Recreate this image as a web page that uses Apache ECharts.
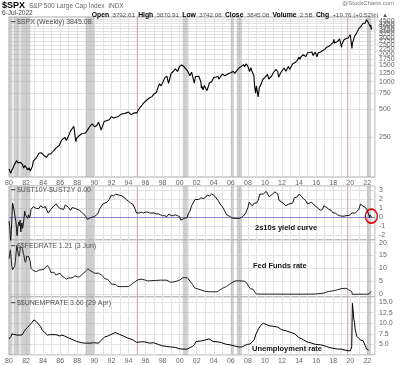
<!DOCTYPE html>
<html><head><meta charset="utf-8">
<script src="https://cdn.jsdelivr.net/npm/echarts@6/dist/echarts.min.js"></script>
<style>html,body{margin:0;padding:0;background:#fff}#c{width:400px;height:365px}</style>
</head><body><div id="c"></div>
<script>
// ---- data (decimal year, value) ----
const spx = [[1980.0,114],[1980.1,116],[1980.2,102],[1980.25,99],[1980.35,111],[1980.5,118],[1980.6,125],[1980.75,127],[1980.9,140],[1981.0,133],
[1981.15,131],[1981.35,134],[1981.5,130],[1981.6,126],[1981.72,116],[1981.85,124],[1982.0,121],[1982.2,111],[1982.35,117],[1982.5,108],[1982.6,104],[1982.75,122],[1982.85,138],[1983.0,141],
[1983.25,152],[1983.5,168],[1983.6,163],[1983.8,170],[1984.0,165],[1984.15,157],[1984.4,152],[1984.55,150],[1984.65,165],[1984.9,165],[1985.0,170],
[1985.25,180],[1985.5,191],[1985.7,182],[1985.9,205],[1986.0,211],[1986.2,235],[1986.4,245],[1986.55,250],[1986.7,232],[1986.9,248],[1987.0,246],
[1987.2,292],[1987.35,285],[1987.6,330],[1987.75,315],[1987.8,236],[1987.83,224],[1987.9,242],[1988.0,250],[1988.25,262],[1988.5,273],[1988.75,275],[1989.0,280],
[1989.25,305],[1989.5,330],[1989.75,350],[1989.95,353],[1990.05,325],[1990.3,335],[1990.5,365],[1990.6,355],[1990.8,300],[1990.9,318],[1991.0,330],
[1991.15,370],[1991.4,378],[1991.5,375],[1991.75,387],[1991.9,381],[1992.0,418],[1992.25,405],[1992.5,412],[1992.75,417],[1993.0,435],
[1993.25,450],[1993.5,450],[1993.75,460],[1994.0,470],[1994.1,481],[1994.3,440],[1994.5,450],[1994.7,462],[1994.9,452],[1995.0,460],
[1995.25,510],[1995.5,545],[1995.75,584],[1996.0,615],[1996.25,645],[1996.5,670],[1996.55,640],[1996.75,690],[1997.0,740],
[1997.25,760],[1997.35,740],[1997.5,885],[1997.65,950],[1997.8,900],[1998.0,970],[1998.25,1100],[1998.5,1150],[1998.6,1186],[1998.7,960],[1998.8,1000],[1999.0,1229],
[1999.25,1290],[1999.5,1380],[1999.75,1290],[2000.0,1469],[2000.2,1400],[2000.25,1520],[2000.5,1460],[2000.7,1520],[2000.9,1320],[2001.0,1330],
[2001.2,1160],[2001.25,1120],[2001.4,1270],[2001.5,1220],[2001.72,965],[2001.85,1140],[2002.0,1148],[2002.25,1147],[2002.5,990],[2002.55,850],[2002.6,900],[2002.75,815],[2002.8,800],[2002.9,910],[2003.0,880],
[2003.2,800],[2003.5,975],[2003.75,1000],[2004.0,1112],[2004.25,1126],[2004.5,1141],[2004.6,1065],[2004.75,1115],[2005.0,1212],
[2005.3,1160],[2005.5,1191],[2005.75,1229],[2006.0,1248],[2006.3,1300],[2006.45,1230],[2006.75,1336],[2007.0,1418],[2007.2,1380],[2007.5,1530],[2007.6,1450],[2007.8,1560],[2008.0,1468],
[2008.2,1290],[2008.35,1420],[2008.5,1280],[2008.7,1165],[2008.8,880],[2008.9,750],[2009.0,900],[2009.15,735],[2009.2,683],[2009.35,870],[2009.5,919],[2009.75,1057],[2010.0,1115],
[2010.3,1200],[2010.45,1070],[2010.55,1030],[2010.75,1141],[2011.0,1258],[2011.3,1360],[2011.5,1290],[2011.6,1120],[2011.75,1100],[2011.85,1250],[2012.0,1258],
[2012.25,1408],[2012.45,1300],[2012.75,1460],[2012.9,1360],[2013.0,1426],[2013.25,1569],[2013.5,1606],[2013.75,1682],[2014.0,1848],[2014.1,1750],
[2014.25,1872],[2014.5,1960],[2014.8,1870],[2015.0,2059],[2015.25,2068],[2015.5,2100],[2015.65,1920],[2015.75,1920],[2015.9,2090],[2016.0,2044],[2016.1,1860],
[2016.25,2060],[2016.5,2099],[2016.75,2168],[2017.0,2239],[2017.25,2363],[2017.5,2423],[2017.75,2519],[2018.0,2674],[2018.08,2870],[2018.15,2620],
[2018.25,2641],[2018.5,2718],[2018.75,2914],[2018.85,2660],[2018.98,2350],[2019.0,2507],[2019.25,2834],[2019.4,2750],[2019.5,2942],[2019.75,2977],[2020.0,3231],
[2020.12,3380],[2020.2,2300],[2020.25,2585],[2020.5,3100],[2020.75,3363],[2021.0,3756],[2021.25,3973],[2021.5,4298],[2021.75,4308],[2021.9,4690],[2022.0,4766],[2022.1,4400],[2022.25,4530],[2022.38,3900],[2022.42,4130],[2022.46,3670],[2022.51,3845]];

const yieldCurve = [[1980.0,-0.4],[1980.08,-1.0],[1980.15,-2.0],[1980.2,-2.6],[1980.28,-1.4],[1980.35,0.2],[1980.42,1.6],[1980.5,1.3],[1980.58,1.2],[1980.65,0.5],[1980.72,0.0],[1980.8,-0.4],[1980.88,-1.2],[1980.95,-2.0],[1981.0,-1.3],
[1981.08,-0.8],[1981.15,-0.5],[1981.22,-0.9],[1981.3,-0.3],[1981.38,-1.6],[1981.45,-1.0],[1981.52,-0.6],[1981.6,-1.2],[1981.68,-0.7],[1981.76,-0.1],[1981.84,0.7],[1981.92,0.3],[1982.0,0.1],
[1982.1,0.2],[1982.2,-0.1],[1982.3,0.3],[1982.4,0.0],[1982.5,0.3],[1982.58,0.9],[1982.66,0.7],[1982.75,1.1],[1982.85,1.2],[1983.0,1.1],
[1983.2,1.0],[1983.35,1.2],[1983.5,1.0],[1983.7,1.3],[1983.85,1.2],[1984.0,1.1],[1984.25,1.2],[1984.45,0.8],[1984.6,0.5],[1984.75,0.6],[1984.9,0.9],[1985.0,1.0],
[1985.25,1.3],[1985.4,1.1],[1985.55,1.5],[1985.75,1.2],[1986.0,1.0],[1986.2,0.8],[1986.4,0.9],[1986.6,1.4],[1986.8,1.2],[1987.0,1.1],
[1987.2,0.8],[1987.4,1.1],[1987.6,0.9],[1987.8,1.0],[1988.0,0.9],[1988.25,0.8],[1988.5,0.6],[1988.75,0.4],[1989.0,0.1],[1989.2,-0.2],[1989.4,-0.1],[1989.6,0.0],[1989.8,0.1],[1990.0,0.1],
[1990.2,0.3],[1990.4,0.4],[1990.6,0.9],[1990.8,1.0],[1991.0,1.5],[1991.25,1.6],[1991.5,1.7],[1991.75,2.0],[1992.0,2.5],[1992.25,2.4],[1992.5,2.6],[1992.7,2.75],[1992.85,2.5],[1993.0,2.6],
[1993.25,2.4],[1993.5,2.2],[1993.75,2.0],[1994.0,1.8],[1994.25,1.6],[1994.5,1.5],[1994.75,1.0],[1994.95,0.5],[1995.0,0.6],
[1995.25,0.5],[1995.5,0.6],[1995.75,0.5],[1996.0,0.6],[1996.25,0.6],[1996.5,0.5],[1996.75,0.5],[1997.0,0.5],[1997.25,0.4],[1997.5,0.4],[1997.75,0.3],[1998.0,0.2],
[1998.25,0.2],[1998.5,0.1],[1998.75,0.4],[1999.0,0.2],[1999.25,0.2],[1999.5,0.3],[1999.75,0.2],[2000.0,0.1],[2000.15,-0.3],[2000.3,-0.4],[2000.5,-0.1],[2000.7,-0.3],[2000.9,0.0],[2001.0,0.4],
[2001.2,0.7],[2001.4,1.3],[2001.6,1.5],[2001.8,2.0],[2002.0,2.2],[2002.25,2.0],[2002.5,2.2],[2002.75,2.1],[2003.0,2.2],[2003.25,2.5],[2003.5,2.4],[2003.75,2.6],[2003.9,2.7],[2004.0,2.5],
[2004.25,2.2],[2004.5,1.9],[2004.75,1.5],[2005.0,1.2],[2005.25,0.8],[2005.5,0.3],[2005.75,0.2],[2005.95,0.0],[2006.1,-0.05],[2006.3,0.1],[2006.5,-0.1],[2006.75,-0.1],[2007.0,-0.1],
[2007.25,0.0],[2007.5,0.2],[2007.75,0.5],[2008.0,1.1],[2008.15,1.7],[2008.3,1.5],[2008.5,1.3],[2008.75,1.6],[2008.9,1.5],[2009.0,1.6],[2009.2,1.9],[2009.4,2.6],[2009.6,2.5],[2009.8,2.6],[2010.0,2.7],
[2010.15,2.9],[2010.35,2.7],[2010.5,2.3],[2010.7,2.1],[2010.9,2.6],[2011.0,2.7],[2011.15,2.85],[2011.3,2.7],[2011.5,2.6],[2011.65,1.9],[2011.8,1.8],[2012.0,1.7],[2012.2,1.9],[2012.45,1.3],[2012.6,1.4],[2012.8,1.5],[2013.0,1.6],
[2013.25,1.6],[2013.45,2.2],[2013.6,2.4],[2013.8,2.3],[2014.0,2.6],[2014.25,2.4],[2014.5,2.1],[2014.75,1.9],[2015.0,1.5],[2015.2,1.4],[2015.45,1.7],[2015.75,1.4],[2016.0,1.2],
[2016.25,1.0],[2016.5,0.8],[2016.75,0.9],[2016.9,1.3],[2017.0,1.2],[2017.25,1.1],[2017.5,0.9],[2017.75,0.8],[2018.0,0.5],[2018.1,0.7],[2018.25,0.5],[2018.5,0.3],[2018.75,0.2],[2019.0,0.15],
[2019.25,0.15],[2019.5,0.2],[2019.6,0.0],[2019.7,0.05],[2019.9,0.25],[2020.0,0.2],[2020.2,0.5],[2020.4,0.5],[2020.6,0.5],[2020.8,0.6],[2021.0,0.9],[2021.2,1.5],[2021.3,1.6],[2021.45,1.3],[2021.6,1.1],[2021.8,1.1],[2022.0,0.8],
[2022.1,0.6],[2022.2,0.2],[2022.25,-0.05],[2022.3,0.3],[2022.38,0.3],[2022.45,0.1],[2022.51,0.0]];

const fedRate = [[1980.0,13.8],[1980.08,14.1],[1980.17,17.2],[1980.25,17.6],[1980.33,11.0],[1980.42,9.5],[1980.5,9.0],[1980.58,9.6],[1980.67,10.9],[1980.75,12.8],[1980.83,15.9],[1980.92,18.9],
[1981.0,19.1],[1981.08,15.9],[1981.17,14.7],[1981.25,15.7],[1981.33,18.5],[1981.42,19.1],[1981.5,19.0],[1981.58,17.8],[1981.67,15.9],[1981.75,15.1],[1981.83,13.3],[1981.92,12.4],
[1982.0,13.2],[1982.08,14.8],[1982.17,14.7],[1982.25,14.9],[1982.33,14.5],[1982.42,14.2],[1982.5,12.6],[1982.58,10.1],[1982.67,10.3],[1982.75,9.7],[1982.83,9.2],[1982.92,8.95],
[1983.0,8.7],[1983.25,8.8],[1983.5,9.4],[1983.75,9.5],[1984.0,9.6],[1984.25,10.3],[1984.5,11.2],[1984.6,11.6],[1984.75,10.0],[1984.92,8.4],
[1985.25,8.6],[1985.5,7.5],[1985.75,7.9],[1986.0,8.1],[1986.25,7.0],[1986.5,6.5],[1986.75,5.9],[1987.0,6.4],[1987.25,6.3],[1987.5,6.6],[1987.75,7.2],[1988.0,6.8],
[1988.25,6.7],[1988.5,7.6],[1988.75,8.2],[1989.0,9.1],[1989.25,9.9],[1989.5,9.2],[1989.75,8.8],[1990.0,8.2],[1990.5,8.2],[1990.92,7.3],
[1991.25,6.0],[1991.5,5.9],[1991.75,5.2],[1992.0,4.0],[1992.5,3.8],[1992.75,3.1],[1993.0,3.0],[1993.5,3.0],[1994.0,3.05],[1994.25,3.6],[1994.5,4.3],[1994.75,4.8],[1995.0,5.5],
[1995.17,6.0],[1995.5,5.9],[1996.0,5.5],[1996.25,5.2],[1996.75,5.3],[1997.25,5.4],[1997.75,5.5],[1998.5,5.5],[1998.92,4.7],[1999.25,4.8],[1999.75,5.2],[2000.0,5.5],[2000.4,6.5],[2000.9,6.4],
[2001.0,6.0],[2001.25,5.0],[2001.5,3.9],[2001.75,2.5],[2001.95,1.75],[2002.5,1.75],[2002.92,1.25],[2003.5,1.0],[2004.4,1.0],[2004.75,1.8],[2005.0,2.3],[2005.5,3.1],[2006.0,4.3],
[2006.5,5.2],[2007.0,5.25],[2007.6,5.1],[2007.9,4.3],[2008.1,3.0],[2008.3,2.2],[2008.6,2.0],[2008.8,1.0],[2009.0,0.15],[2010.0,0.12],[2012.0,0.1],[2014.0,0.08],[2015.9,0.15],[2016.0,0.36],
[2016.9,0.5],[2017.25,0.9],[2017.5,1.15],[2018.0,1.4],[2018.5,1.8],[2018.9,2.2],[2019.0,2.4],[2019.5,2.4],[2019.65,2.1],[2019.8,1.8],[2020.0,1.55],[2020.17,1.1],[2020.25,0.05],[2021.0,0.09],[2022.0,0.08],
[2022.25,0.3],[2022.37,0.8],[2022.45,1.21]];

const unemp = [[1980.0,6.3],[1980.25,6.9],[1980.35,7.5],[1980.5,7.8],[1980.92,7.2],[1981.0,7.5],[1981.5,7.2],[1981.7,7.6],[1981.92,8.5],
[1982.17,9.0],[1982.42,9.6],[1982.67,10.1],[1982.92,10.8],[1983.25,10.3],[1983.45,10.1],[1983.7,9.2],[1983.92,8.3],[1984.2,7.8],[1984.5,7.2],[1984.75,7.3],[1984.92,7.3],
[1985.5,7.3],[1985.92,7.0],[1986.2,7.2],[1986.5,7.0],[1986.92,6.6],[1987.5,6.1],[1987.92,5.7],[1988.5,5.4],[1988.92,5.3],[1989.5,5.3],[1989.92,5.4],
[1990.5,5.3],[1990.75,5.9],[1990.92,6.3],[1991.25,6.8],[1991.5,6.9],[1991.92,7.3],[1992.45,7.8],[1992.92,7.4],[1993.5,6.9],[1993.92,6.5],[1994.5,6.1],[1994.92,5.5],
[1995.5,5.6],[1995.92,5.6],[1996.5,5.3],[1996.92,5.4],[1997.5,5.0],[1997.92,4.7],[1998.5,4.5],[1998.92,4.4],[1999.5,4.3],[1999.92,4.0],[2000.3,3.9],[2000.92,3.9],
[2001.25,4.3],[2001.5,4.5],[2001.75,5.0],[2001.92,5.7],[2002.5,5.8],[2002.92,6.0],[2003.45,6.3],[2003.92,5.7],[2004.5,5.6],[2004.92,5.4],[2005.5,5.0],[2005.92,4.9],
[2006.5,4.6],[2006.92,4.4],[2007.25,4.4],[2007.5,4.6],[2007.92,5.0],[2008.25,5.1],[2008.5,5.6],[2008.75,6.1],[2008.92,7.3],[2009.25,8.7],[2009.5,9.5],[2009.8,10.0],[2009.92,9.9],
[2010.5,9.4],[2010.92,9.3],[2011.5,9.1],[2011.92,8.5],[2012.5,8.2],[2012.92,7.9],[2013.5,7.5],[2013.92,6.7],[2014.5,6.1],[2014.92,5.6],[2015.5,5.3],[2015.92,5.0],
[2016.5,4.9],[2016.92,4.7],[2017.5,4.3],[2017.92,4.1],[2018.5,3.9],[2018.92,3.9],[2019.5,3.6],[2019.75,3.5],[2019.92,3.6],[2020.0,3.5],[2020.17,4.4],[2020.25,14.7],
[2020.33,13.2],[2020.42,11.0],[2020.5,10.2],[2020.58,8.4],[2020.67,7.8],[2020.75,6.9],[2020.92,6.7],[2021.0,6.4],[2021.25,6.0],[2021.5,5.9],[2021.75,4.7],[2021.92,3.9],[2022.0,4.0],[2022.17,3.6],[2022.25,3.6]];

// shaded inversion bands and marker lines (decimal years)
const bands = [[1980.0,1980.4],[1980.53,1981.23],[1981.35,1982.5],[1988.98,1990.0],[2000.36,2000.95],[2006.0,2006.35],[2006.7,2007.3],[2021.96,2022.43]];
const redLines = [1995.05, 2019.7];
const spxTicks = [250,500,750,1000,1250,1500,1750,2000,2250,2500,2750,3000,3250,3500,3750,4000,4250,4500,4750];

const GRAY='#666', FONT='Liberation Sans, Arial, sans-serif';
const L=9, R=25;
const grids=[{left:L,right:R,top:17,height:160},{left:L,right:R,top:186,height:54},{left:L,right:R,top:240,height:57},{left:L,right:R,top:297,height:58}];

function xAx(i, showLabels){
  return {type:'value', gridIndex:i, min:1980, max:2022.9, interval:1,
    axisLine:{show:false}, axisTick:{show:false},
    splitLine:{show:true, lineStyle:{color:'#e3e3e3', width:1}},
    axisLabel:{show:showLabels, fontSize:7, color:GRAY, fontFamily:FONT, margin:3, showMaxLabel:false,
      formatter:v=> (Number.isInteger(v) && v%2===0) ? String(v).slice(2) : ''}};
}
function yBase(i){
  return {gridIndex:i, position:'right', axisLine:{show:false}, axisTick:{show:false},
    splitLine:{show:true, lineStyle:{color:'#e3e3e3'}},
    axisLabel:{fontSize:7, color:GRAY, fontFamily:FONT, margin:4, showMinLabel:false, showMaxLabel:false}};
}
const RED = '#f4a3a3';
// gray inversion bands plus thin red marker strips (~1px wide)
const bandArea = {silent:true, itemStyle:{color:'rgba(170,170,170,0.55)'},
  data: bands.map(b=>[{xAxis:b[0]},{xAxis:b[1]}]).concat(
        redLines.map(x=>[{xAxis:x-0.07, itemStyle:{color:RED, opacity:1}},{xAxis:x+0.07}]))};
const lineCommon = {type:'line', showSymbol:false, symbol:'none', animation:false, z:5};

const y0 = Object.assign(yBase(0), {type:'log', min:93, max:5020,
  axisLabel:{fontSize:7, color:GRAY, fontFamily:FONT, margin:4, customValues:spxTicks, formatter:v=>String(v)},
  axisTick:{show:false, customValues:spxTicks}});
const y1 = Object.assign(yBase(1), {type:'value', min:-2.5, max:3.5, splitNumber:6});
const y2 = Object.assign(yBase(2), {type:'value', min:-1, max:21, splitNumber:4});
const y3 = Object.assign(yBase(3), {type:'value', min:2.5, max:16.2, interval:2.5, axisLabel:{fontSize:7, color:GRAY, fontFamily:FONT, margin:4, showMinLabel:false, showMaxLabel:false, formatter:v=>v.toFixed(1)}});

const legendStyle = {fontSize:7, fill:'#555', fontFamily:FONT};
const T = (o)=>Object.assign({type:'text', z:100}, o);
const option = {
  animation:false,
  grid: grids.map(g=>Object.assign({show:true, borderColor:'#a8a8a8', borderWidth:1, backgroundColor:'#fff'}, g)),
  xAxis:[xAx(0,true), xAx(1,false), xAx(2,false), xAx(3,true)],
  yAxis:[y0,y1,y2,y3],
  series:[
    Object.assign({}, lineCommon, {xAxisIndex:0,yAxisIndex:0,data:spx,lineStyle:{color:'#000',width:1.1},markArea:bandArea}),
    Object.assign({}, lineCommon, {xAxisIndex:1,yAxisIndex:1,data:yieldCurve,lineStyle:{color:'#111',width:1},markArea:bandArea}),
    Object.assign({}, lineCommon, {xAxisIndex:1,yAxisIndex:1,data:[],
      markLine:{silent:true, symbol:['none','none'], label:{show:false}, lineStyle:{color:'#8a86c8',type:'solid',width:1}, data:[{yAxis:0}]},
      markPoint:{silent:true, data:[{coord:[2022.47,0.15], symbol:'circle', symbolSize:[12,14],
        itemStyle:{color:'rgba(0,0,0,0)', borderColor:'#e00000', borderWidth:1.5}, label:{show:false}}]}}),
    Object.assign({}, lineCommon, {xAxisIndex:2,yAxisIndex:2,data:fedRate,lineStyle:{color:'#222',width:1},markArea:bandArea}),
    Object.assign({}, lineCommon, {xAxisIndex:3,yAxisIndex:3,data:unemp,lineStyle:{color:'#000',width:1},markArea:bandArea})
  ],
  graphic:[
    T({left:2, top:1, style:{text:'$SPX', fontSize:9, fontWeight:'bold', fill:'#000', fontFamily:FONT}}),
    T({left:29, top:2.5, style:{text:'S&P 500 Large Cap Index  INDX', fontSize:6.5, fill:'#666', fontFamily:FONT}}),
    T({right:6, top:0.5, style:{text:'@StockCharts.com', fontSize:6, fill:'#777', fontFamily:FONT}}),
    T({left:2, top:10, style:{text:'6-Jul-2022', fontSize:6.5, fill:'#444', fontFamily:FONT}}),
    T({right:12, top:9.5, style:{
      text:'{b|Open} {v|3792.61} {b|High} {v|3870.91} {b|Low} {v|3742.06} {b|Close} {v|3845.08} {b|Volume} {v|2.5B} {b|Chg} {v|+19.76 (+0.52%)} {v|▲}',
      rich:{b:{fontSize:6.8, fontWeight:'bold', fill:'#000', fontFamily:FONT}, v:{fontSize:6.2, fill:'#555', fontFamily:FONT}}}}),
    T({left:11, top:19, style:Object.assign({text:'━ $SPX (Weekly) 3845.08'}, legendStyle)}),
    T({left:11, top:187, style:Object.assign({text:'━ $UST10Y-$UST2Y 0.00'}, legendStyle)}),
    T({left:11, top:243, style:Object.assign({text:'━ $$FEDRATE 1.21 (3 Jun)'}, legendStyle)}),
    T({left:11, top:300, style:Object.assign({text:'━ $$UNEMPRATE 3.60 (29 Apr)'}, legendStyle)}),
    T({left:255, top:224, style:{text:'2s10s yield curve', fontSize:7.5, fontWeight:'bold', fill:'#111', fontFamily:FONT}}),
    T({left:253, top:262, style:{text:'Fed Funds rate', fontSize:7.5, fontWeight:'bold', fill:'#111', fontFamily:FONT}}),
    T({left:252, top:345, style:{text:'Unemployment rate', fontSize:7.5, fontWeight:'bold', fill:'#111', fontFamily:FONT}})
  ]
};
const chart = echarts.init(document.getElementById('c'), null, {renderer:'canvas'});
chart.setOption(option);
</script></body></html>
